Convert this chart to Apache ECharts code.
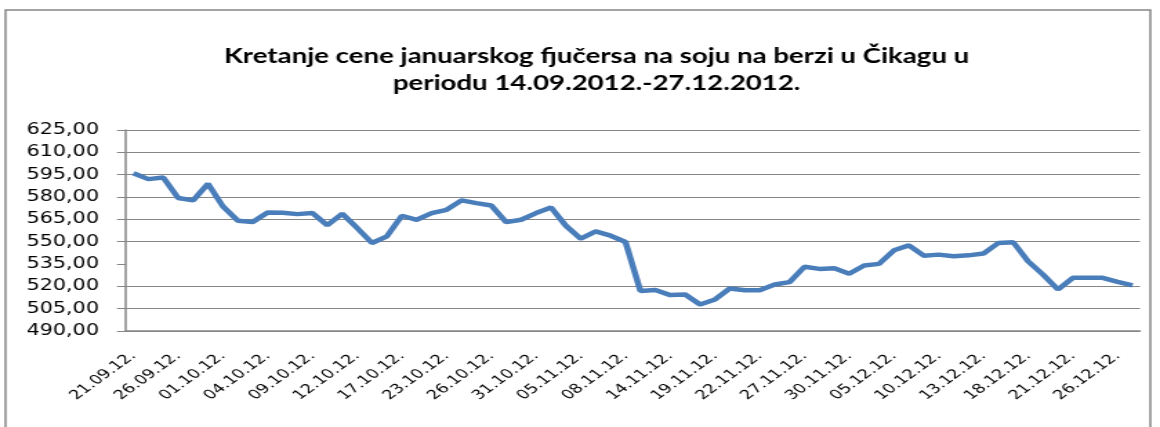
<!DOCTYPE html>
<html>
<head>
<meta charset="utf-8">
<title>Kretanje cene januarskog fjučersa na soju</title>
<script src="https://cdn.jsdelivr.net/npm/echarts@6.0.0/dist/echarts.min.js"></script>
<style>
	html, body { margin: 0; padding: 0; background: #fff; overflow: hidden; }
	/* original picture is stretched sideways, so draw narrow and scale it out */
	#chart { width: 840px; height: 427px; transform: scaleX(1.38095); transform-origin: 0 0; }
</style>
</head>
<body>
<div id="chart"></div>
<script>
// trgovački dani (oznaka na svakom trećem)
var dates = [
	'21.09.12.', '24.09.12.', '25.09.12.', '26.09.12.', '27.09.12.', '28.09.12.',
	'01.10.12.', '02.10.12.', '03.10.12.', '04.10.12.', '05.10.12.', '08.10.12.',
	'09.10.12.', '10.10.12.', '11.10.12.', '12.10.12.', '15.10.12.', '16.10.12.',
	'17.10.12.', '18.10.12.', '19.10.12.', '23.10.12.', '24.10.12.', '25.10.12.',
	'26.10.12.', '29.10.12.', '30.10.12.', '31.10.12.', '01.11.12.', '02.11.12.',
	'05.11.12.', '06.11.12.', '07.11.12.', '08.11.12.', '09.11.12.', '13.11.12.',
	'14.11.12.', '15.11.12.', '16.11.12.', '19.11.12.', '20.11.12.', '21.11.12.',
	'22.11.12.', '23.11.12.', '26.11.12.', '27.11.12.', '28.11.12.', '29.11.12.',
	'30.11.12.', '03.12.12.', '04.12.12.', '05.12.12.', '06.12.12.', '07.12.12.',
	'10.12.12.', '11.12.12.', '12.12.12.', '13.12.12.', '14.12.12.', '17.12.12.',
	'18.12.12.', '19.12.12.', '20.12.12.', '21.12.12.', '24.12.12.', '25.12.12.',
	'26.12.12.', '27.12.12.'
];

// cena (centi po bušelu)
var prices = [
	596, 592, 593.1, 579.3, 577.7, 588.9, 573.7, 564.1, 563.2, 569.6,
	569.4, 568.5, 569.2, 561, 568.8, 559.2, 549.1, 553.6, 567.4, 564.7,
	569.2, 571.4, 577.7, 575.9, 574.3, 563.1, 564.7, 569.2, 573, 560.7,
	552, 556.9, 554, 549.8, 516.8, 517.5, 514.1, 514.5, 507.8, 511.2,
	518.6, 517.4, 517.4, 521.2, 522.8, 533.1, 531.7, 532.2, 528.4, 534,
	535.1, 544.2, 547.5, 540.6, 541.3, 540.2, 540.8, 542, 549.1, 549.6,
	536.8, 527.9, 517.9, 525.7, 525.7, 525.7, 523, 520.6
];

var yTicks = [490, 505, 520, 535, 550, 565, 580, 595, 610, 625];

var gray = '#868686';
// linija za 535 se na slici ne vidi
var gridColors = yTicks.map(function(t) { return t == 535 ? 'rgba(0,0,0,0)' : gray; });

var myChart = echarts.init(document.getElementById('chart'));
myChart.setOption({
	backgroundColor: '#fff',
	animation: false,
	title: {
		text: 'Kretanje cene januarskog fjučersa na soju na berzi u Čikagu u\nperiodu 14.09.2012.-27.12.2012.',
		left: 427,
		top: 38,
		textAlign: 'center',
		textStyle: {
			fontFamily: 'Lato',
			fontWeight: 'bold',
			fontSize: 20,
			lineHeight: 27,
			color: '#000'
		}
	},
	graphic: [{
		type: 'rect',
		shape: { x: 4, y: 10, width: 829, height: 440 },
		style: { fill: 'none', stroke: gray, lineWidth: 1.5 },
		silent: true
	}],
	grid: {
		left: 91.2,
		right: 14.5,
		top: 130,
		bottom: 96,
		outerBoundsMode: 'none'
	},
	xAxis: {
		type: 'category',
		data: dates,
		boundaryGap: true,
		axisLine: { lineStyle: { color: gray, width: 1.5 } },
		axisTick: { interval: 0, length: 5, lineStyle: { color: gray, width: 1 } },
		axisLabel: {
			interval: 2,
			rotate: 45,
			margin: 23,
			color: '#000',
			fontFamily: 'DejaVu Sans',
			fontSize: 13
		}
	},
	yAxis: {
		type: 'value',
		min: yTicks[0],
		max: yTicks[yTicks.length - 1],
		interval: 15,
		axisLine: { show: true, lineStyle: { color: gray, width: 1.5 } },
		axisTick: { show: true, length: 6.5, lineStyle: { color: gray, width: 1 } },
		axisLabel: {
			margin: 19.5,
			color: '#000',
			fontFamily: 'DejaVu Sans',
			fontSize: 15,
			formatter: function(v) { return v.toFixed(2).replace('.', ','); }
		},
		splitLine: { lineStyle: { color: gridColors, width: 1.2 } }
	},
	series: [{
		type: 'line',
		data: prices,
		symbol: 'none',
		smooth: false,
		lineStyle: { color: '#4a7ebb', width: 4.5 }
	}]
});
</script>
</body>
</html>
